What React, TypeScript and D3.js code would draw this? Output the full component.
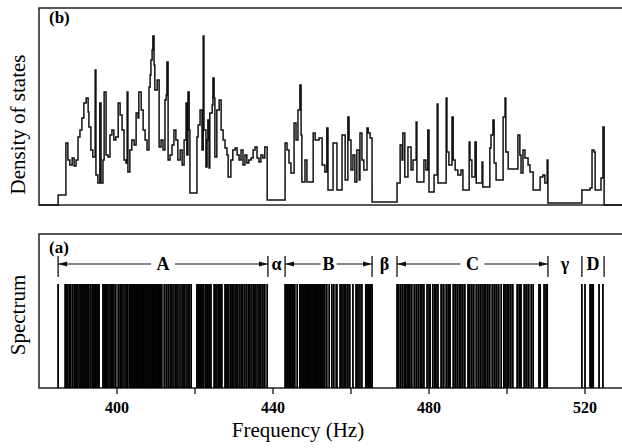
import React from "react";
import * as d3 from "d3";

// density of states: step starts (Hz) and heights (arb. units)
const dosFreq = [
  380, 384.9, 386.9, 387.4, 387.9, 388.5, 389.0, 389.5, 390.0, 390.5, 391.0, 391.5, 392.1, 392.6, 392.8,
  393.3, 393.8, 394.4, 394.6, 395.1, 395.6, 395.9, 396.4, 396.7, 397.2, 397.7, 398.2, 398.7, 399.2, 399.7,
  400.3, 400.8, 401.3, 401.8, 402.3, 402.6, 402.8, 403.3, 403.8, 404.4, 404.9, 405.4, 405.6, 406.2, 406.7,
  407.2, 407.7, 408.2, 408.5, 408.7, 409.0, 409.2, 409.5, 409.7, 410.3, 410.8, 411.3, 411.8, 412.3, 412.6,
  412.8, 413.1, 413.6, 414.1, 414.6, 415.1, 415.6, 416.2, 416.7, 417.2, 417.7, 417.9, 418.2, 418.5, 418.7,
  420.5, 420.8, 421.3, 421.8, 422.1, 422.3, 422.8, 423.1, 423.3, 423.6, 423.8, 424.4, 424.6, 424.9, 425.1,
  425.6, 426.2, 426.7, 427.2, 427.7, 428.2, 428.5, 429.2, 429.7, 430.3, 430.8, 431.3, 431.8, 432.3, 432.8,
  433.3, 433.8, 434.4, 434.9, 435.4, 435.9, 436.4, 436.9, 437.4, 437.9, 438.5,
  443.1, 443.6, 444.1, 444.6, 445.4, 445.9, 446.4, 446.9, 447.2, 447.4, 448.2, 448.7, 450.3, 450.8, 451.8,
  452.6, 453.3, 453.8, 454.1, 455.4, 456.4, 457.7, 458.5, 459.2, 459.5, 460.0, 460.5, 461.0, 461.5, 462.1,
  462.3, 462.8, 463.3, 464.1, 464.4, 464.9, 465.4,
  471.8, 472.6, 473.1, 473.3, 473.8, 474.6, 475.4, 475.9, 476.7, 476.9, 478.7, 479.2, 479.7, 480.0, 481.3,
  482.1, 482.3, 484.4, 484.6, 485.1, 485.9, 486.2, 486.7, 487.4, 488.2, 488.7, 490.3, 490.5, 491.0, 491.8,
  492.1, 493.6, 493.8, 495.6, 495.9, 496.4, 496.7, 497.2, 499.0, 499.5, 499.7, 500.3, 502.8, 503.3, 503.6,
  504.1, 504.6, 505.4, 505.9, 506.7, 508.5, 509.2, 509.7, 510.3, 510.5,
  519.2, 521.3, 521.8, 522.3, 522.6, 524.1, 524.6, 524.9, 530,
];
const dosValue = [
  0, 0.5, 3.1, 2.25, 2.0, 2.35, 1.95, 2.25, 3.4, 3.75, 4.35, 5.1, 5.35, 4.65, 3.9,
  2.75, 2.4, 6.75, 1.5, 1.1, 5.1, 1.1, 2.25, 5.65, 2.5, 2.4, 3.5, 3.75, 3.25, 3.4,
  5.1, 4.5, 3.75, 2.25, 2.1, 5.65, 1.65, 2.75, 3.25, 3.0, 4.6, 4.35, 5.65, 4.75, 3.75,
  3.25, 2.75, 5.9, 6.5, 7.25, 7.75, 8.45, 7.0, 5.75, 6.25, 2.9, 3.25, 2.75, 5.25, 5.5,
  7.15, 2.25, 2.5, 3.0, 3.75, 3.25, 2.25, 2.75, 2.0, 3.25, 5.1, 2.5, 5.65, 3.75, 0.6,
  3.4, 4.0, 4.75, 2.75, 8.45, 3.75, 1.9, 3.25, 4.25, 1.85, 4.6, 5.0, 6.35, 5.35, 2.4,
  4.75, 5.25, 3.75, 3.25, 2.85, 2.5, 1.4, 2.25, 2.75, 2.85, 2.5, 2.25, 2.75, 2.0, 2.5,
  2.1, 2.25, 2.35, 2.75, 2.9, 2.35, 2.15, 2.5, 2.35, 2.9, 0.25,
  3.1, 2.75, 2.1, 1.6, 4.1, 3.25, 4.75, 6.0, 3.5, 1.15, 2.25, 1.15, 3.6, 3.25, 3.35,
  2.0, 1.65, 3.85, 0.75, 3.1, 0.75, 3.5, 1.25, 4.4, 3.25, 1.75, 2.5, 1.15, 2.75, 1.25,
  3.6, 2.25, 1.75, 3.85, 3.6, 3.35, 0.15,
  1.1, 3.0, 2.25, 3.6, 1.4, 2.9, 1.75, 2.25, 4.15, 1.15, 2.25, 1.75, 3.75, 0.65, 1.5,
  5.05, 1.1, 5.35, 2.65, 2.0, 4.4, 2.25, 1.75, 1.5, 1.75, 0.75, 3.15, 2.25, 1.4, 3.15,
  1.1, 2.15, 0.9, 2.85, 3.5, 4.25, 2.1, 1.25, 4.4, 5.35, 2.65, 1.8, 3.5, 2.5, 1.6,
  2.75, 2.35, 2.0, 1.65, 0.75, 1.4, 1.5, 1.1, 2.25, 0.1,
  0.75, 0.85, 2.75, 2.65, 0.75, 1.35, 3.9, 0, 0,
];

// spectrum: eigenfrequencies (Hz)
const lineFreq = [
  384.9, 386.7, 386.9, 387.2, 387.7, 388.0, 388.5, 388.7, 389.2, 389.5, 389.7, 390.0, 390.5, 390.8, 391.0,
  391.3, 391.5, 391.8, 392.1, 392.3, 392.6, 393.1, 393.6, 393.8, 394.1, 394.4, 394.6, 394.9, 395.1, 395.4,
  396.4, 396.7, 396.9, 397.2, 397.4, 397.7, 398.2, 398.5, 398.7, 399.0, 399.5, 399.7,
  400.3, 400.5, 401.0, 401.3, 401.8, 402.3, 402.6, 403.1,
  403.3, 403.6, 403.8, 404.1, 404.4, 404.6, 404.9, 405.1, 405.4, 405.6, 405.9, 406.2, 406.4, 406.7, 406.9,
  407.2, 407.4, 407.7, 407.9, 408.2, 408.5, 408.7, 409.0, 409.2, 409.5, 409.7, 410.0, 410.3, 410.5, 410.8, 411.0,
  411.3, 411.5, 412.1, 412.6, 412.8, 413.3, 413.8, 414.1, 414.6, 415.1, 415.4, 415.9, 416.4, 416.9, 417.2,
  417.7, 418.2, 418.5, 419.0,
  420.5, 420.8, 421.0, 421.3, 421.5, 421.8, 422.1, 422.6, 422.8, 423.1, 423.3, 423.6, 423.8, 424.1, 424.9,
  425.1, 425.4, 425.9, 426.2, 426.4, 426.7, 426.9, 427.7, 427.9, 428.2, 428.5, 429.0, 429.2, 429.5, 429.7,
  430.0, 430.5, 430.8, 431.3, 431.8, 432.1, 432.6, 433.1, 433.3, 433.8, 434.1, 434.6, 435.1, 435.4, 435.9,
  436.4, 436.7, 437.2, 437.7, 437.9, 438.5,
  443.1, 443.3, 443.6, 443.8, 444.1, 444.4, 444.6, 444.9, 445.1, 445.4, 445.6, 446.2, 446.9, 447.2, 447.4,
  447.7, 447.9, 448.2, 448.5, 448.7, 449.0, 449.2, 449.5, 449.7, 450.0, 450.3, 450.5, 450.8, 451.0, 451.3,
  451.5, 451.8, 452.1, 452.3, 452.6, 452.8, 453.1, 453.3, 453.8, 454.4, 455.1, 455.6, 456.2, 456.4, 457.2,
  457.4, 457.7, 458.2, 458.5, 459.0, 459.5, 459.7, 460.5, 461.3, 461.5, 461.8, 462.3, 462.8, 463.8, 464.1,
  464.4, 464.6, 464.9, 465.1, 465.4,
  471.8, 472.1, 472.6, 472.8, 473.3, 473.8, 474.1, 474.6, 474.9, 475.4, 475.6, 476.2, 476.7, 476.9, 477.4,
  477.9, 478.2, 478.7, 479.5, 480.0, 480.3, 481.0, 481.5, 481.8, 482.3, 483.1, 483.3, 483.8, 484.4, 484.6,
  485.1, 485.4, 486.2, 486.4, 486.9, 487.4, 487.9, 488.2, 488.7, 489.2, 490.0, 490.3, 490.8, 491.3, 491.5,
  492.1, 492.6, 493.1, 493.6, 494.1, 494.4, 494.9, 495.4, 495.6, 496.2, 496.7, 497.2, 497.4, 497.9, 498.5,
  499.2, 499.5, 500.0, 500.3, 500.8, 501.0, 501.5, 502.6, 502.8, 503.3, 503.6, 504.4, 504.6, 505.1, 505.6,
  506.2, 506.7, 508.2, 508.5, 509.5, 510.0, 510.3,
  519.2, 520.0, 521.3, 521.5, 521.8, 522.1, 523.6, 524.6,
];

const bandNames = ["A", "α", "B", "β", "C", "γ", "D"];
const bandEdges = [384.9, 438.7, 443.1, 465.4, 471.8, 510.5, 519.2, 524.9];
const arrowBands = ["A", "B", "C"];
const freqTicks = [400, 420, 440, 460, 480, 500, 520];
const freqLabels = [400, 440, 480, 520];

const serif = "'Liberation Serif', 'Times New Roman', serif";

export default function App() {
  const left = 39, right = 624;
  const top1 = 8, bot1 = 205;
  const top2 = 234, bot2 = 388;
  const lineTop = 284;
  const arrowY = 264;

  const x = d3.scaleLinear().domain([380, 530]).range([left, right]);
  const y = d3.scaleLinear().domain([0, 9.85]).range([bot1, top1]);

  const pts: [number, number][] = dosFreq.map((f, i) => [f, dosValue[i]]);
  const step = d3
    .line<[number, number]>()
    .x((d) => x(d[0]))
    .y((d) => y(d[1]))
    .curve(d3.curveStepAfter);

  const gapFor = (name: string) => (name === "B" ? 8 : 12);

  return (
    <svg width={622} height={448} style={{ position: "absolute", left: 0, top: 0, background: "#fff" }}>
      {/* (b) density of states */}
      <rect x={left} y={top1} width={right - left} height={bot1 - top1} fill="none" stroke="#111" strokeWidth={1.4} />
      <path d={step(pts) || ""} fill="none" stroke="#111" strokeWidth={1.5} strokeLinejoin="miter" />
      <text x={49} y={23} fontFamily={serif} fontWeight="bold" fontSize={17}>(b)</text>
      <text
        transform={`translate(25,${(top1 + bot1) / 2 + 18}) rotate(-90)`}
        textAnchor="middle"
        fontFamily={serif}
        fontSize={21}
      >
        Density of states
      </text>

      {/* (a) spectrum */}
      <rect x={left} y={top2} width={right - left} height={bot2 - top2} fill="none" stroke="#111" strokeWidth={1.4} />
      {lineFreq.map((f, i) => (
        <line key={i} x1={x(f)} x2={x(f)} y1={lineTop} y2={bot2} stroke="#000" strokeWidth={1.8} />
      ))}
      <text x={49} y={253} fontFamily={serif} fontWeight="bold" fontSize={17}>(a)</text>
      <text
        transform={`translate(25,${(top2 + bot2) / 2 + 4}) rotate(-90)`}
        textAnchor="middle"
        fontFamily={serif}
        fontSize={21}
      >
        Spectrum
      </text>

      {bandEdges.map((f, i) => (
        <line key={"e" + i} x1={x(f)} x2={x(f)} y1={256} y2={277} stroke="#111" strokeWidth={1.3} />
      ))}
      {bandNames.map((name, i) => {
        const x0 = x(bandEdges[i]);
        const x1 = x(bandEdges[i + 1]);
        const cx = (x0 + x1) / 2;
        const g = gapFor(name);
        const hasArrow = arrowBands.includes(name);
        return (
          <g key={name}>
            {hasArrow && (
              <>
                <line x1={x0} x2={cx - g} y1={arrowY} y2={arrowY} stroke="#111" strokeWidth={1.1} />
                <line x1={cx + g} x2={x1} y1={arrowY} y2={arrowY} stroke="#111" strokeWidth={1.1} />
                <path d={`M${x0},${arrowY}L${x0 + 9},${arrowY - 2.5}L${x0 + 9},${arrowY + 2.5}Z`} fill="#111" />
                <path d={`M${x1},${arrowY}L${x1 - 9},${arrowY - 2.5}L${x1 - 9},${arrowY + 2.5}Z`} fill="#111" />
              </>
            )}
            <text x={cx} y={arrowY + 6} textAnchor="middle" fontFamily={serif} fontWeight="bold" fontSize={18}>
              {name}
            </text>
          </g>
        );
      })}

      {/* frequency axis */}
      {freqTicks.map((t) => (
        <line key={t} x1={x(t)} x2={x(t)} y1={bot2} y2={bot2 + 6} stroke="#111" strokeWidth={1.3} />
      ))}
      {freqLabels.map((t) => (
        <text key={t} x={x(t)} y={413} textAnchor="middle" fontFamily={serif} fontWeight="bold" fontSize={16}>
          {t}
        </text>
      ))}
      <text x={298} y={437} textAnchor="middle" fontFamily={serif} fontSize={21}>
        Frequency (Hz)
      </text>
    </svg>
  );
}
